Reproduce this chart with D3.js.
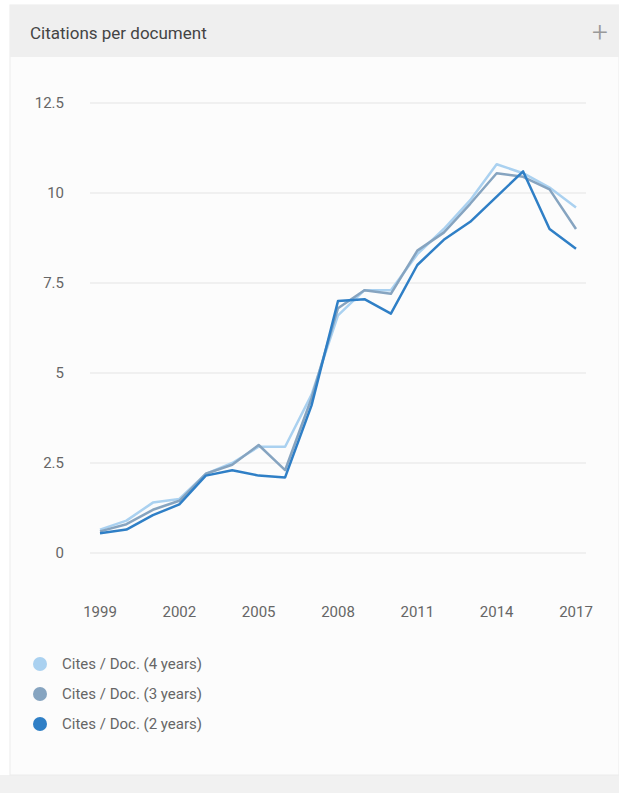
<!DOCTYPE html>
<html>
<head>
<meta charset="utf-8">
<script src="https://cdn.jsdelivr.net/npm/d3@7"></script>
<style>
  body { margin: 0; background: #ffffff; font-family: Roboto, "Noto Sans", sans-serif; }
</style>
</head>
<body>
<div id="chart"></div>
<script>
// ===== DATA =====
const years = [1999, 2000, 2001, 2002, 2003, 2004, 2005, 2006, 2007, 2008,
               2009, 2010, 2011, 2012, 2013, 2014, 2015, 2016, 2017];
const cites4 = [0.65, 0.9, 1.4, 1.5, 2.2, 2.5, 2.95, 2.95, 4.4, 6.6,
                7.3, 7.3, 8.3, 9.0, 9.8, 10.8, 10.55, 10.15, 9.6];
const cites3 = [0.6, 0.8, 1.2, 1.45, 2.2, 2.45, 3.0, 2.3, 4.3, 6.8,
                7.3, 7.2, 8.4, 8.9, 9.7, 10.55, 10.45, 10.1, 9.0];
const cites2 = [0.55, 0.65, 1.05, 1.35, 2.15, 2.3, 2.15, 2.1, 4.1, 7.0,
                7.05, 6.65, 8.0, 8.7, 9.2, 9.9, 10.6, 9.0, 8.45];
const yTicks = [0, 2.5, 5, 7.5, 10, 12.5];
const xTicks = [1999, 2002, 2005, 2008, 2011, 2014, 2017];
const seriesNames = ["Cites / Doc. (4 years)", "Cites / Doc. (3 years)", "Cites / Doc. (2 years)"];
const seriesColors = ["#aad1f0", "#86a4c0", "#2f7fc6"];

const W = 619, H = 793;
const svg = d3.select("#chart").append("svg")
  .attr("width", W).attr("height", H);

// ===== CARD =====
svg.append("rect").attr("x", 0).attr("y", 775).attr("width", W).attr("height", H - 775).attr("fill", "#f1f1f1");
svg.append("rect").attr("x", 10).attr("y", 5).attr("width", W - 10).attr("height", 770)
  .attr("fill", "#fcfcfc").attr("stroke", "#ececec");
svg.append("rect").attr("x", 10).attr("y", 5).attr("width", W - 10).attr("height", 52).attr("fill", "#efefef");
svg.append("text").attr("x", 30).attr("y", 39).text("Citations per document")
  .attr("font-size", 17).attr("fill", "#444");
svg.append("text").attr("x", 600).attr("y", 42).attr("text-anchor", "middle").text("+")
  .attr("font-size", 28).attr("font-weight", 300).attr("fill", "#999");

// ===== SCALES =====
const x = d3.scaleLinear().domain([1999, 2017]).range([100, 576]);
const y = d3.scaleLinear().domain([0, 12.5]).range([553, 103]);

// grid
svg.append("g").selectAll("line").data(yTicks).join("line")
  .attr("x1", 90).attr("x2", 586)
  .attr("y1", d => y(d)).attr("y2", d => y(d))
  .attr("stroke", "#e4e4e4").attr("stroke-width", 1.2);

// y labels
svg.append("g").selectAll("text").data(yTicks).join("text")
  .attr("x", 64).attr("y", d => y(d) + 5)
  .attr("text-anchor", "end")
  .attr("font-size", 15).attr("fill", "#666")
  .text(d => d);

// x labels
svg.append("g").selectAll("text").data(xTicks).join("text")
  .attr("x", d => x(d)).attr("y", 617)
  .attr("text-anchor", "middle")
  .attr("font-size", 15).attr("fill", "#666")
  .text(d => d);

// ===== LINES =====
const line = d3.line().x((d, i) => x(years[i])).y(d => y(d));
[cites4, cites3, cites2].forEach((s, k) => {
  svg.append("path").datum(s)
    .attr("d", line)
    .attr("fill", "none")
    .attr("stroke", seriesColors[k])
    .attr("stroke-width", 2.5)
    .attr("stroke-linejoin", "round");
});

// ===== LEGEND =====
const leg = svg.append("g").selectAll("g").data(seriesNames).join("g")
  .attr("transform", (d, i) => `translate(40, ${664 + i * 30})`);
leg.append("circle").attr("r", 7).attr("fill", (d, i) => seriesColors[i]);
leg.append("text").attr("x", 22).attr("y", 5)
  .attr("font-size", 15).attr("fill", "#666").text(d => d);
</script>
</body>
</html>
